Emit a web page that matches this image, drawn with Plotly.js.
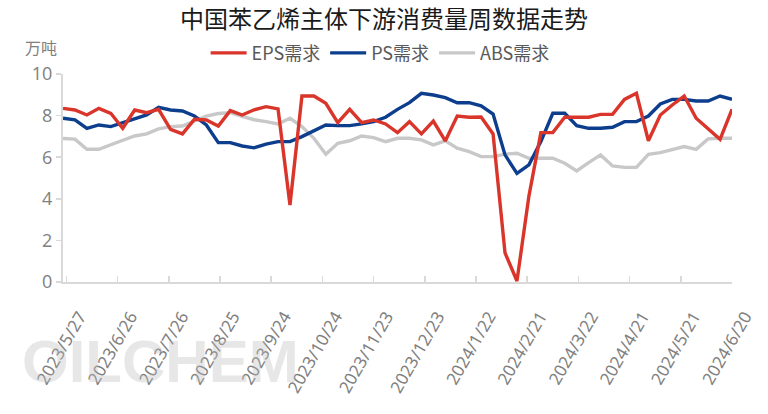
<!DOCTYPE html>
<html>
<head>
<meta charset="utf-8">
<script src="https://cdn.plot.ly/plotly-3.0.1.min.js"></script>
<style>html,body{margin:0;padding:0;background:#fff;}#chart{width:768px;height:414px;}</style>
</head>
<body>
<div id="chart"></div>
<script>
// Weekly data, first week and count
const startDate = '2023-05-25';
const weekCount = 57;
const seriesNames = ['EPS需求', 'PS需求', 'ABS需求'];
const epsValues = [8.35,8.27,8.03,8.35,8.11,7.39,8.27,8.14,8.3,7.34,7.12,7.82,7.79,7.5,8.24,8.03,8.28,8.43,8.32,3.7,
  8.94,8.94,8.59,7.66,8.3,7.66,7.79,7.6,7.18,7.71,7.12,7.74,6.78,7.98,7.92,7.93,7.12,1.4,0.05,4.13,
  7.18,7.18,7.92,7.92,7.92,8.06,8.06,8.78,9.07,6.79,8.03,8.51,8.94,7.87,7.39,6.86,8.3];
const psValues = [7.87,7.8,7.39,7.55,7.47,7.66,7.82,8.03,8.4,8.27,8.22,7.98,7.55,6.7,6.7,6.54,6.45,6.63,6.75,6.75,
  6.99,7.28,7.55,7.52,7.52,7.6,7.71,7.92,8.3,8.62,9.07,8.99,8.86,8.62,8.62,8.47,8.07,6.11,5.22,5.63,
  6.75,8.11,8.11,7.52,7.39,7.39,7.44,7.71,7.71,7.98,8.56,8.78,8.78,8.7,8.7,8.94,8.78];
const absValues = [6.9,6.87,6.38,6.38,6.6,6.8,7.02,7.12,7.36,7.47,7.5,7.74,7.98,8.1,8.14,7.96,7.8,7.71,7.6,7.87,
  7.47,6.91,6.14,6.67,6.79,7.02,6.94,6.75,6.91,6.91,6.83,6.59,6.79,6.43,6.27,6.03,6.03,6.15,6.19,5.95,
  5.95,5.95,5.71,5.34,5.74,6.11,5.58,5.51,5.51,6.14,6.22,6.35,6.51,6.38,6.88,6.91,6.91];
const tickDates = ['2023-05-27','2023-06-26','2023-07-26','2023-08-25','2023-09-24','2023-10-24','2023-11-23',
  '2023-12-23','2024-01-22','2024-02-21','2024-03-22','2024-04-21','2024-05-21','2024-06-20'];
const tickLabels = ['2023/5/27','2023/6/26','2023/7/26','2023/8/25','2023/9/24','2023/10/24','2023/11/23',
  '2023/12/23','2024/1/22','2024/2/21','2024/3/22','2024/4/21','2024/5/21','2024/6/20'];
const yTicks = [0,2,4,6,8,10];

function weeklyDates(start, n) {
  const out = [];
  const d0 = new Date(start + 'T00:00:00Z');
  for (let i = 0; i < n; i++) {
    const d = new Date(d0.getTime() + i * 7 * 86400000);
    out.push(d.toISOString().slice(0, 10));
  }
  return out;
}
const dates = weeklyDates(startDate, weekCount);
const colors = ['#D9352A', '#0D3E8E', '#C8C8C8'];
const values = [epsValues, psValues, absValues];

const traces = values.map((v, k) => ({
  x: dates, y: v, type: 'scatter', mode: 'lines', name: seriesNames[k],
  line: {color: colors[k], width: 3.4}
}));
traces[0].legendrank = 1; traces[1].legendrank = 2; traces[2].legendrank = 3;
const data = [traces[2], traces[1], traces[0]];

const axisGray = '#D9D9D9';
const textGray = '#808080';
const layout = {
  width: 768, height: 414,
  margin: {l: 63, r: 36, t: 74, b: 132},
  paper_bgcolor: '#fff', plot_bgcolor: '#fff',
  font: {family: '"Noto Sans CJK SC", "Noto Sans", sans-serif', color: textGray},
  title: {text: '中国苯乙烯主体下游消费量周数据走势', x: 0.5, xanchor: 'center', y: 0.952, yanchor: 'middle',
    font: {size: 24, color: '#1a1a1a', family: '"Noto Sans CJK SC", sans-serif'}},
  showlegend: true,
  legend: {orientation: 'h', x: 0.474, xanchor: 'center', y: 1.10, yanchor: 'middle',
    font: {size: 18, color: '#595959'}, traceorder: 'normal', itemwidth: 36, tracegroupgap: 0},
  xaxis: {type: 'date', range: [dates[0], dates[dates.length - 1]],
    tickmode: 'array', tickvals: tickDates, ticktext: tickLabels, tickangle: -60,
    ticks: 'inside', ticklen: 6, tickcolor: axisGray, tickwidth: 1.5, ticklabelstandoff: 16, ticklabelshift: 13,
    showline: true, linecolor: axisGray, linewidth: 2, showgrid: false, zeroline: false,
    tickfont: {size: 17, color: textGray, family: '"Noto Sans", "Open Sans", sans-serif'}},
  yaxis: {range: [0, 10], tickvals: yTicks, ticks: 'outside', ticklen: 5, tickcolor: axisGray, tickwidth: 1.5,
    showline: true, linecolor: axisGray, linewidth: 2, showgrid: false, zeroline: false,
    tickfont: {size: 18, color: textGray, family: '"Open Sans", "Noto Sans", sans-serif'}},
  annotations: [
    {text: '万吨', xref: 'paper', yref: 'paper', x: -0.033, y: 1.13, xanchor: 'center', yanchor: 'middle',
      showarrow: false, font: {size: 16, color: textGray}},
    {text: '<b>OILCHEM</b>', xref: 'paper', yref: 'paper', x: 0.145, y: -0.38, xanchor: 'center', yanchor: 'middle',
      showarrow: false, font: {size: 60, color: 'rgba(185,185,185,0.35)', family: '"Liberation Sans", Arial, sans-serif'}}
  ]
};
Plotly.newPlot('chart', data, layout, {displayModeBar: false, staticPlot: true});
</script>
</body>
</html>
